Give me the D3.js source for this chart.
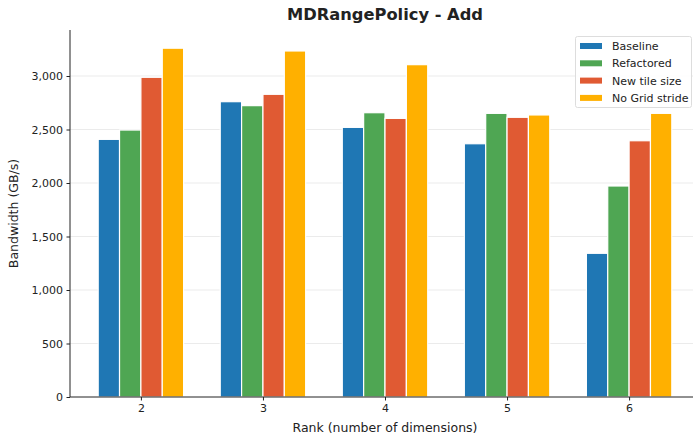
<!DOCTYPE html>
<html>
<head>
<meta charset="utf-8">
<script src="https://cdn.jsdelivr.net/npm/d3@7"></script>
<style>
  body { margin: 0; background: #fff; }
  svg text { font-family: "DejaVu Sans", sans-serif; fill: #222; }
</style>
</head>
<body>
<div id="chart"></div>
<script>
// chart data
const ranks = [2, 3, 4, 5, 6];
const seriesNames = ['Baseline', 'Refactored', 'New tile size', 'No Grid stride'];
const seriesColors = ['#1f77b4', '#4fa653', '#e05a33', '#ffb000'];
const baseline = [2408, 2760, 2520, 2367, 1343];
const refactored = [2495, 2723, 2657, 2651, 1972];
const newTileSize = [2988, 2829, 2604, 2614, 2395];
const noGridStride = [3260, 3234, 3106, 2636, 2651];
const yTicks = [0, 500, 1000, 1500, 2000, 2500, 3000];

const allSeries = [baseline, refactored, newTileSize, noGridStride];

const width = 693, height = 435;
const plotLeft = 70, plotRight = 700.5, plotTop = 30, plotBottom = 397;

const svg = d3.select('#chart').append('svg')
    .attr('width', width)
    .attr('height', height);

const x = d3.scaleLinear().domain([1.415, 6.585]).range([plotLeft - 0.5, plotRight]);
const y = d3.scaleLinear().domain([0, 3430]).range([plotBottom, plotTop]);

// gridlines
svg.append('g')
    .selectAll('line')
    .data(yTicks.slice(1))
    .enter()
    .append('line')
    .attr('x1', plotLeft)
    .attr('x2', plotRight)
    .attr('y1', d => y(d))
    .attr('y2', d => y(d))
    .attr('stroke', '#ebebeb')
    .attr('stroke-width', 1);

// bars
const barW = 0.175;
allSeries.forEach((vals, i) => {
    svg.append('g')
        .selectAll('rect')
        .data(vals)
        .enter()
        .append('rect')
        .attr('x', (d, j) => x(ranks[j] - 2 * barW + i * barW))
        .attr('width', x(barW) - x(0))
        .attr('y', d => y(d))
        .attr('height', d => y(0) - y(d))
        .attr('fill', seriesColors[i])
        .attr('stroke', '#fff')
        .attr('stroke-width', 1.2);
});

// axes
const yAxis = svg.append('g')
    .attr('transform', `translate(${plotLeft},0)`)
    .call(d3.axisLeft(y).tickValues(yTicks).tickSize(3.5).tickPadding(3.5).tickFormat(d3.format(',')));
yAxis.select('.domain').remove();
yAxis.append('line')
    .attr('x1', 0).attr('x2', 0)
    .attr('y1', plotTop).attr('y2', plotBottom)
    .attr('stroke', '#222');

const xAxis = svg.append('g')
    .attr('transform', `translate(0,${plotBottom})`)
    .call(d3.axisBottom(x).tickValues(ranks).tickSize(3.5).tickPadding(3.5).tickFormat(d3.format('d')));
xAxis.select('.domain').remove();
xAxis.append('line')
    .attr('x1', plotLeft).attr('x2', plotRight)
    .attr('y1', 0).attr('y2', 0)
    .attr('stroke', '#222');

svg.selectAll('.tick text').style('font-size', '11px').attr('fill', '#222');
svg.selectAll('.tick line').attr('stroke', '#222');

// labels
svg.append('text')
    .attr('x', x(4))
    .attr('y', 20)
    .attr('text-anchor', 'middle')
    .style('font-size', '16.3px')
    .style('font-weight', 'bold')
    .text('MDRangePolicy - Add');

svg.append('text')
    .attr('x', x(4))
    .attr('y', 432)
    .attr('text-anchor', 'middle')
    .style('font-size', '12.5px')
    .text('Rank (number of dimensions)');

svg.append('text')
    .attr('transform', `translate(18,${(plotTop + plotBottom) / 2}) rotate(-90)`)
    .attr('text-anchor', 'middle')
    .style('font-size', '12.5px')
    .text('Bandwidth (GB/s)');

// legend
const legend = svg.append('g');
legend.append('rect')
    .attr('x', 575.5).attr('y', 36.5)
    .attr('width', 116).attr('height', 71)
    .attr('rx', 2)
    .attr('fill', '#fff')
    .attr('fill-opacity', 0.85)
    .attr('stroke', '#ddd');
seriesNames.forEach((name, i) => {
    legend.append('rect')
        .attr('x', 580).attr('y', 43 + i * 17.3)
        .attr('width', 22).attr('height', 6)
        .attr('fill', seriesColors[i]);
    legend.append('text')
        .attr('x', 612).attr('y', 50 + i * 17.3)
        .style('font-size', '11px')
        .text(name);
});
</script>
</body>
</html>
